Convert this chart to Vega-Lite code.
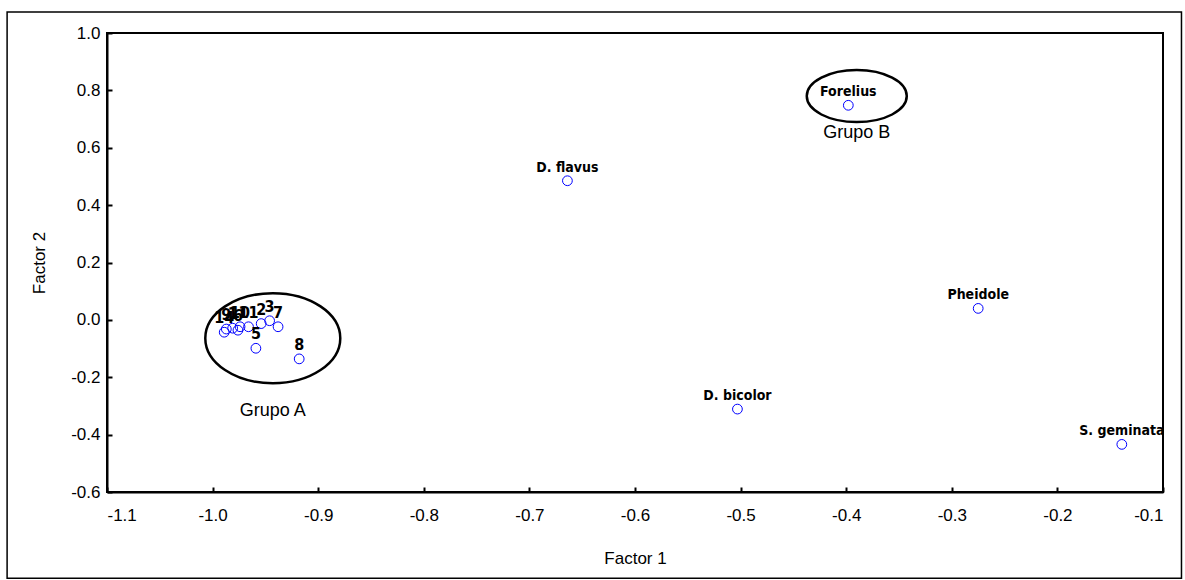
{
  "$schema": "https://vega.github.io/schema/vega-lite/v6.json",
  "autosize": "none",
  "width": 1056,
  "height": 459,
  "padding": {"left": 107, "top": 33, "right": 22, "bottom": 88},
  "background": "white",
  "config": {
    "view": {"stroke": "black", "strokeWidth": 2},
    "axis": {
      "grid": false,
      "domainColor": "black",
      "domainWidth": 2,
      "tickColor": "black",
      "tickWidth": 2,
      "tickSize": -5,
      "labelFont": "Liberation Sans",
      "labelFontSize": 17,
      "labelColor": "black",
      "titleFont": "Liberation Sans",
      "titleFontSize": 17,
      "titleFontWeight": "normal",
      "titleColor": "black"
    }
  },
  "datasets": {
    "one": [{}],
    "pts": [
      {"name": "D. flavus", "f1": -0.664, "f2": 0.485, "kind": "species"},
      {"name": "Forelius", "f1": -0.398, "f2": 0.748, "kind": "species"},
      {"name": "Pheidole", "f1": -0.275, "f2": 0.040, "kind": "species"},
      {"name": "D. bicolor", "f1": -0.503, "f2": -0.311, "kind": "species"},
      {"name": "S. geminata", "f1": -0.139, "f2": -0.434, "kind": "species"},
      {"name": "14", "f1": -0.989, "f2": -0.043, "kind": "site"},
      {"name": "9", "f1": -0.987, "f2": -0.032, "kind": "site"},
      {"name": "1", "f1": -0.981, "f2": -0.029, "kind": "site"},
      {"name": "6", "f1": -0.976, "f2": -0.036, "kind": "site"},
      {"name": "10", "f1": -0.974, "f2": -0.024, "kind": "site"},
      {"name": "11", "f1": -0.966, "f2": -0.024, "kind": "site"},
      {"name": "2", "f1": -0.954, "f2": -0.013, "kind": "site"},
      {"name": "3", "f1": -0.946, "f2": -0.003, "kind": "site"},
      {"name": "7", "f1": -0.938, "f2": -0.024, "kind": "site"},
      {"name": "5", "f1": -0.959, "f2": -0.099, "kind": "site"},
      {"name": "8", "f1": -0.918, "f2": -0.136, "kind": "site"}
    ]
  },
  "layer": [
    {
      "data": {"name": "one"},
      "mark": {"type": "rect", "fill": null, "stroke": "black", "strokeWidth": 1.5, "clip": false},
      "encoding": {
        "x": {"datum": -1.1946, "type": "quantitative", "scale": {"domain": [-1.1, -0.1], "nice": false, "zero": false}},
        "x2": {"datum": -0.0825},
        "y": {"datum": 1.0733, "type": "quantitative", "scale": {"domain": [-0.6, 1.0], "nice": false, "zero": false}},
        "y2": {"datum": -0.901}
      }
    },
    {
      "data": {"name": "one"},
      "mark": {"type": "point", "shape": "M -1 0 A 1 0.667 0 1 0 1 0 A 1 0.667 0 1 0 -1 0 Z", "size": 18225, "filled": false, "stroke": "black", "strokeWidth": 2.5, "opacity": 1},
      "encoding": {
        "x": {"datum": -0.943, "type": "quantitative"},
        "y": {"datum": -0.064, "type": "quantitative"}
      }
    },
    {
      "data": {"name": "one"},
      "mark": {"type": "point", "shape": "M -1 0 A 1 0.52 0 1 0 1 0 A 1 0.52 0 1 0 -1 0 Z", "size": 10000, "filled": false, "stroke": "black", "strokeWidth": 2.5, "opacity": 1},
      "encoding": {
        "x": {"datum": -0.390, "type": "quantitative"},
        "y": {"datum": 0.780, "type": "quantitative"}
      }
    },
    {
      "data": {"name": "pts"},
      "mark": {"type": "point", "shape": "circle", "size": 95, "filled": false, "stroke": "#0000ff", "strokeWidth": 1, "opacity": 1},
      "encoding": {
        "x": {"field": "f1", "type": "quantitative", "title": "Factor 1",
              "axis": {"values": [-1.1, -1.0, -0.9, -0.8, -0.7, -0.6, -0.5, -0.4, -0.3, -0.2, -0.1], "labelExpr": "replace(format(datum.value, '.1f'), '\u2212', '-')", "labelPadding": 20, "titlePadding": 27}},
        "y": {"field": "f2", "type": "quantitative", "title": "Factor 2",
              "axis": {"values": [-0.6, -0.4, -0.2, 0.0, 0.2, 0.4, 0.6, 0.8, 1.0], "labelExpr": "replace(format(datum.value, '.1f'), '\u2212', '-')", "labelPadding": 12, "titlePadding": 22}}
      }
    },
    {
      "data": {"name": "pts"},
      "transform": [{"filter": "datum.kind === 'species'"}],
      "mark": {"type": "text", "font": "DejaVu Sans Condensed", "fontWeight": "bold", "fontSize": 14, "color": "black", "baseline": "bottom", "dy": -6, "align": "center"},
      "encoding": {
        "x": {"field": "f1", "type": "quantitative"},
        "y": {"field": "f2", "type": "quantitative"},
        "text": {"field": "name"}
      }
    },
    {
      "data": {"name": "pts"},
      "transform": [{"filter": "datum.kind === 'site'"}],
      "mark": {"type": "text", "font": "DejaVu Sans Condensed", "fontWeight": "bold", "fontSize": 16, "color": "black", "baseline": "bottom", "dy": -6, "align": "center"},
      "encoding": {
        "x": {"field": "f1", "type": "quantitative"},
        "y": {"field": "f2", "type": "quantitative"},
        "text": {"field": "name"}
      }
    },
    {
      "data": {"name": "one"},
      "mark": {"type": "text", "font": "Liberation Sans", "fontSize": 18, "color": "black", "align": "center", "baseline": "middle"},
      "encoding": {
        "x": {"datum": -0.943, "type": "quantitative"},
        "y": {"datum": -0.318, "type": "quantitative"},
        "text": {"value": "Grupo A"}
      }
    },
    {
      "data": {"name": "one"},
      "mark": {"type": "text", "font": "Liberation Sans", "fontSize": 18, "color": "black", "align": "center", "baseline": "middle"},
      "encoding": {
        "x": {"datum": -0.390, "type": "quantitative"},
        "y": {"datum": 0.651, "type": "quantitative"},
        "text": {"value": "Grupo B"}
      }
    }
  ]
}
